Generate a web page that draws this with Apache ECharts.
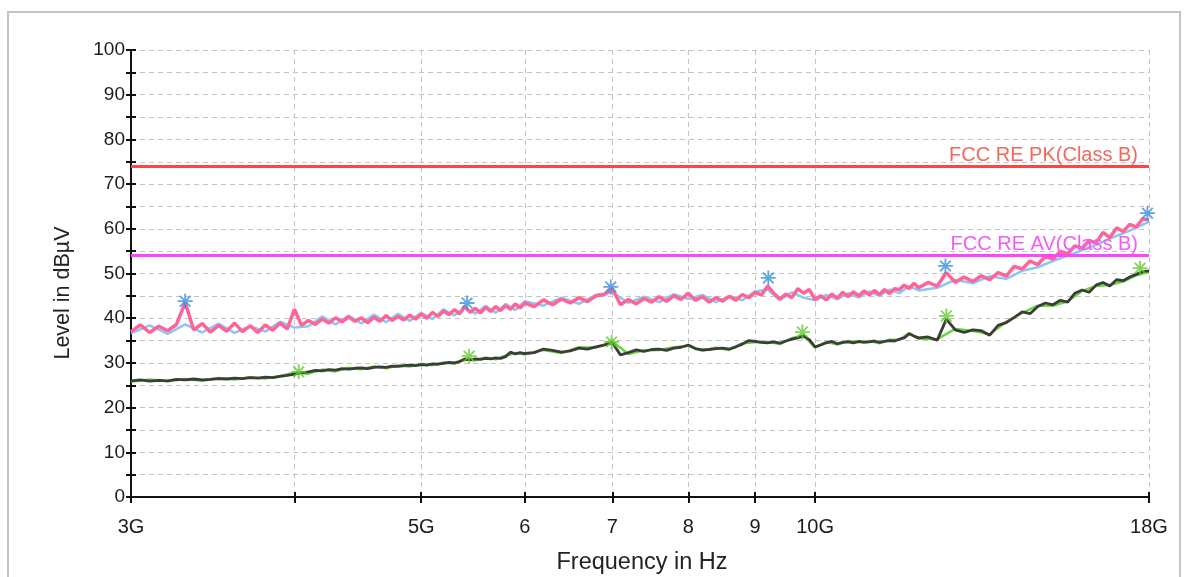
<!DOCTYPE html>
<html><head><meta charset="utf-8">
<script src="https://cdn.jsdelivr.net/npm/echarts@6/dist/echarts.min.js"></script>
<style>html,body{margin:0;padding:0;background:#fff}#c{width:1189px;height:577px}</style>
</head><body><div id="c"></div>
<script>
// Frequencies in GHz (sweep grid)
const freqGHz = [
3.00,3.05,3.10,3.15,3.20,3.25,3.30,3.35,3.40,3.45,3.50,3.55,3.60,3.65,3.70,3.75,3.80,3.85,3.90,3.95,
4.00,4.05,4.10,4.15,4.20,4.25,4.30,4.35,4.40,4.45,4.50,4.55,4.60,4.65,4.70,4.75,4.80,4.85,4.90,4.95,
5.00,5.05,5.10,5.15,5.20,5.25,5.30,5.35,5.40,5.45,5.50,5.55,5.60,5.65,5.70,5.75,5.80,5.85,5.90,5.95,6.00,
6.1,6.2,6.3,6.4,6.5,6.6,6.7,6.8,6.9,7.0,7.1,7.2,7.3,7.4,7.5,7.6,7.7,7.8,7.9,8.0,
8.1,8.2,8.3,8.4,8.5,8.6,8.7,8.8,8.9,9.0,9.1,9.2,9.3,9.4,9.5,9.6,9.7,9.8,9.9,10.0,
10.1,10.2,10.3,10.4,10.5,10.6,10.7,10.8,10.9,11.0,11.1,11.2,11.3,11.4,11.5,11.6,11.7,11.8,11.9,12.0,
12.2,12.4,12.6,12.8,13.0,13.2,13.4,13.6,13.8,14.0,14.2,14.4,14.6,14.8,15.0,15.2,15.4,15.6,15.8,16.0,
16.2,16.4,16.6,16.8,17.0,17.2,17.4,17.6,17.8,18.0
];
// Peak trace (pink), dBµV
const peakPink = [
37.0,38.5,36.8,38.2,37.2,38.6,43.5,37.4,38.8,36.9,38.4,37.1,38.9,37.0,38.3,36.8,38.5,37.3,38.9,37.6,
42.0,38.4,39.5,38.6,39.8,38.9,40.1,39.2,40.3,39.3,40.1,39.0,40.2,39.3,40.6,39.5,40.4,39.6,40.7,39.8,
40.9,40.0,41.3,40.4,41.6,40.8,41.9,41.0,42.6,41.3,42.2,41.2,42.4,41.5,42.6,41.7,42.8,42.0,43.2,42.3,43.4,
42.6,44.1,43.0,44.3,43.4,44.6,43.7,45.0,45.3,46.6,43.0,44.2,43.2,44.4,43.6,44.8,43.8,45.0,44.2,45.6,
44.0,44.8,43.6,44.6,43.8,44.9,44.0,45.3,44.6,45.8,45.2,47.2,45.6,44.3,45.4,44.6,46.6,45.6,46.4,44.2,
45.0,44.1,45.4,44.5,45.8,44.8,45.9,45.0,46.1,45.2,46.2,45.3,46.4,45.5,46.6,46.4,47.4,46.6,47.8,46.8,
48.0,47.2,50.2,48.0,49.2,48.2,49.5,48.6,50.2,49.4,51.6,51.0,52.8,52.0,53.8,53.2,55.0,54.4,56.2,55.6,
57.4,56.8,59.2,58.0,60.2,59.4,61.0,60.4,62.2,62.0
];
// Average trace (dark grey), dBµV
const avgGrey = [
26.0,26.2,25.9,26.1,26.0,26.3,26.2,26.4,26.2,26.3,26.5,26.4,26.6,26.5,26.7,26.6,26.8,26.7,27.0,27.2,
27.5,27.8,28.0,28.3,28.2,28.5,28.4,28.7,28.6,28.8,28.9,28.7,29.0,29.1,29.0,29.3,29.2,29.4,29.5,29.4,
29.6,29.5,29.8,29.7,29.9,30.1,30.0,30.3,30.8,30.7,30.9,30.8,31.0,30.9,31.1,31.0,31.4,32.4,32.0,32.3,32.1,
32.3,33.1,32.8,32.4,32.7,33.3,33.1,33.6,34.0,34.5,31.8,32.3,32.9,32.6,33.0,33.1,32.8,33.3,33.5,34.0,
33.2,32.9,33.0,33.2,33.3,33.1,33.6,34.2,35.0,34.8,34.6,34.5,34.7,34.4,34.9,35.3,35.6,36.0,35.2,33.6,
34.0,34.5,34.8,34.3,34.6,34.7,34.5,34.8,34.6,34.7,34.9,34.6,34.8,35.0,34.9,35.3,35.6,36.5,36.0,35.6,
35.8,35.1,39.8,37.4,36.8,37.4,37.2,36.2,38.4,39.0,40.2,41.4,41.0,42.6,43.4,43.0,44.0,43.6,45.6,46.3,
45.8,47.4,48.0,47.2,48.6,48.4,49.2,49.8,50.4,50.6
];
// Second polarisation traces (light blue peak / green average), coarser grid
const freq2GHz = [
3.0,3.1,3.2,3.3,3.4,3.5,3.6,3.7,3.8,3.9,4.0,4.1,4.2,4.3,4.4,4.5,4.6,4.7,4.8,4.9,
5.0,5.1,5.2,5.3,5.4,5.5,5.6,5.7,5.8,5.9,6.0,
6.2,6.4,6.6,6.8,7.0,7.2,7.4,7.6,7.8,8.0,8.2,8.4,8.6,8.8,9.0,9.2,9.4,9.6,9.8,10.0,
10.2,10.4,10.6,10.8,11.0,11.2,11.4,11.6,11.8,12.0,
12.4,12.8,13.2,13.6,14.0,14.4,14.8,15.2,15.6,16.0,16.4,16.8,17.2,17.6,18.0
];
const peakBlue = [
36.6,38.4,36.5,38.6,36.8,38.8,36.7,38.2,37.0,39.2,37.9,38.2,40.4,38.6,40.6,38.8,40.8,39.1,41.0,39.4,
41.2,39.8,42.0,40.6,42.4,41.0,42.8,41.2,43.2,41.8,43.8,
42.8,44.6,43.2,45.2,45.8,43.4,44.8,43.6,45.4,44.3,45.2,43.6,45.0,44.0,46.0,46.4,44.0,45.8,44.6,44.0,
45.2,44.2,45.6,44.6,46.0,45.0,46.4,45.6,47.2,46.2,
46.8,48.6,47.8,49.4,48.8,50.6,51.4,52.8,54.0,55.2,56.4,57.8,59.0,60.2,61.6
];
const avgGreen = [
25.8,26.3,25.9,26.4,26.0,26.6,26.3,26.8,26.5,27.1,27.8,27.6,28.5,28.1,28.9,28.6,29.2,28.8,29.4,29.2,
29.8,29.5,30.1,29.8,31.0,30.6,31.2,30.8,31.6,32.2,31.9,
32.9,32.2,33.5,33.4,34.8,32.0,32.8,32.9,33.5,33.8,32.7,33.4,32.9,34.4,34.6,34.7,34.2,35.5,36.2,33.4,
34.7,34.1,34.9,34.6,34.9,34.4,35.2,35.1,36.7,35.4,
35.3,37.6,37.2,36.4,39.2,41.2,42.8,42.8,43.8,46.1,47.2,47.4,48.2,49.6,50.4
];
// Final measurement markers
const peakMarkF = [3.30, 5.42, 6.98, 9.21, 12.58, 17.95];
const peakMarkV = [43.8, 43.4, 47.0, 49.0, 51.7, 63.5];
const avgMarkF  = [4.03, 5.44, 6.99, 9.78, 12.60, 17.72];
const avgMarkV  = [28.0, 31.5, 34.7, 36.9, 40.5, 51.2];
// Limit lines
const limitPK = 74, limitAV = 54;
const limitPKName = 'FCC RE PK(Class B)', limitAVName = 'FCC RE AV(Class B)';
// Axis ticks / labels / titles
const xTickVals  = [3,4,5,6,7,8,9,10,18];
const xLabelVals = [3,5,6,7,8,9,10,18];
const xLabelText = ['3G','5G','6','7','8','9','10G','18G'];
const xTitle = 'Frequency in Hz', yTitle = 'Level in dBµV';

const pairs = (f, v) => f.map((x, i) => [x, v[i]]);
const FONT = '"Liberation Sans", Arial, sans-serif';
const star = 'path://M0,8L16,8M8,0L8,16M2.3,2.3L13.7,13.7M13.7,2.3L2.3,13.7';

function xLabel(v){
  for (let i = 0; i < xLabelVals.length; i++) if (Math.abs(xLabelVals[i] - v) < 1e-6) return xLabelText[i];
  return '';
}

const chart = echarts.init(document.getElementById('c'), null, {renderer: 'canvas'});
chart.setOption({
  animation: false,
  backgroundColor: '#fff',
  textStyle: {fontFamily: FONT},
  graphic: [
    {type: 'rect', shape: {x: 8, y: 12, width: 1172, height: 620},
     style: {fill: 'none', stroke: '#c3c3c3', lineWidth: 2}, z: -10},
    {type: 'text', x: 63, y: 293, rotation: Math.PI / 2,
     style: {text: yTitle, fontSize: 21.5, fill: '#222', font: '21.5px "Liberation Sans", Arial, sans-serif',
             textAlign: 'center', textVerticalAlign: 'middle'}}
  ],
  grid: {left: 131, right: 40, top: 50, bottom: 80, containLabel: false, outerBoundsMode: 'none'},
  xAxis: [{
    type: 'log', logBase: 10, min: 3, max: 18, position: 'bottom',
    name: xTitle, nameLocation: 'middle', nameGap: 54,
    nameTextStyle: {fontSize: 23.5, color: '#222', fontFamily: FONT, padding: [0, 0, 0, 4]},
    axisLine: {lineStyle: {color: '#111', width: 2}},
    axisTick: {customValues: xTickVals, length: 6, lineStyle: {color: '#111', width: 2}},
    axisLabel: {customValues: xLabelVals, formatter: xLabel, fontSize: 20, color: '#1c1c1c', margin: 20, fontFamily: FONT},
    splitLine: {show: true, lineStyle: {color: '#c4c4c4', type: [5, 4], width: 1}}
  }, {
    type: 'log', logBase: 10, min: 3, max: 18, position: 'bottom',
    axisLine: {show: false},
    axisTick: {inside: true, customValues: xTickVals, length: 5, lineStyle: {color: '#111', width: 2}},
    axisLabel: {show: false}, splitLine: {show: false}
  }],
  yAxis: [{
    type: 'value', min: 0, max: 100, interval: 5,
    axisLine: {show: true, lineStyle: {color: '#111', width: 2}},
    axisTick: {show: true, length: 5, lineStyle: {color: '#111', width: 2}},
    axisLabel: {formatter: v => (v % 10 === 0 ? String(v) : ''), fontSize: 19, color: '#1c1c1c', margin: 6, fontFamily: FONT},
    splitLine: {show: true, lineStyle: {color: '#c4c4c4', type: [5, 4], width: 1}}
  }, {
    type: 'value', min: 0, max: 100, interval: 5, position: 'left',
    axisLine: {show: false},
    axisTick: {show: true, inside: true, length: 5, lineStyle: {color: '#111', width: 2}},
    axisLabel: {show: false}, splitLine: {show: false}
  }],
  series: [
    {type: 'line', name: 'limits', data: [], z: 1, silent: true,
     markLine: {symbol: 'none', silent: true, animation: false,
       data: [
         {yAxis: limitPK, lineStyle: {color: '#ff4444', width: 3, type: 'solid'},
          label: {show: true, position: 'insideEndTop', formatter: limitPKName, fontSize: 20, color: '#f0695c', distance: [11, 1], fontFamily: FONT}},
         {yAxis: limitAV, lineStyle: {color: '#ff44ff', width: 3, type: 'solid'},
          label: {show: true, position: 'insideEndTop', formatter: limitAVName, fontSize: 20, color: '#f35cf3', distance: [11, 1], fontFamily: FONT}}
       ]}},
    {type: 'line', name: 'peakBlue', data: pairs(freq2GHz, peakBlue), showSymbol: false, z: 2,
     lineStyle: {color: '#8cc6f5', width: 2.5}},
    {type: 'line', name: 'avgGreen', data: pairs(freq2GHz, avgGreen), showSymbol: false, z: 2,
     lineStyle: {color: '#6ad83a', width: 2.5}},
    {type: 'line', name: 'peakPink', data: pairs(freqGHz, peakPink), showSymbol: false, z: 3,
     lineStyle: {color: '#ff6496', width: 3.5}},
    {type: 'line', name: 'avgGrey', data: pairs(freqGHz, avgGrey), showSymbol: false, z: 3,
     lineStyle: {color: '#3c3c3c', width: 2.8}},
    {type: 'scatter', name: 'peakMarks', data: pairs(peakMarkF, peakMarkV), symbol: star, symbolSize: 15, z: 4,
     itemStyle: {color: 'rgba(0,0,0,0)', borderColor: '#3b8fdc', borderWidth: 1.8}},
    {type: 'scatter', name: 'avgMarks', data: pairs(avgMarkF, avgMarkV), symbol: star, symbolSize: 15, z: 4,
     itemStyle: {color: 'rgba(0,0,0,0)', borderColor: '#62cc2e', borderWidth: 1.8}}
  ]
});
</script></body></html>
